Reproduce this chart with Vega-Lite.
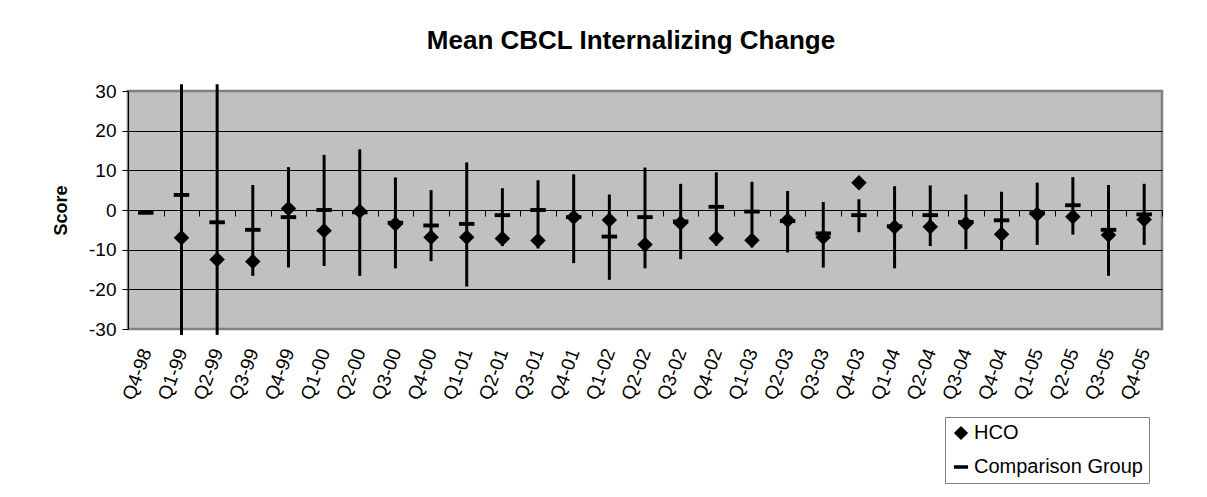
{
  "$schema": "https://vega.github.io/schema/vega-lite/v6.json",
  "autosize": "none",
  "width": 1034,
  "height": 238,
  "padding": {"left": 128, "top": 91, "right": 45, "bottom": 168},
  "background": "white",
  "title": {
    "text": "Mean CBCL Internalizing Change",
    "font": "Liberation Sans",
    "fontSize": 26,
    "fontWeight": "bold",
    "color": "black",
    "anchor": "middle",
    "frame": "group",
    "offset": 28,
    "dx": -14
  },
  "config": {
    "view": {"fill": "#C0C0C0", "stroke": "#808080", "strokeWidth": 2.5},
    "axis": {"labelFont": "Liberation Sans", "titleFont": "Liberation Sans", "labelColor": "black", "titleColor": "black", "domainColor": "black", "tickColor": "black"},
    "axisY": {
      "values": [-30, -20, -10, 0, 10, 20, 30],
      "labelExpr": "toString(datum.value)",
      "labelOverlap": false,
      "labelFontSize": 19,
      "labelPadding": 6,
      "tickSize": 6,
      "domain": true,
      "grid": true,
      "gridWidth": 1,
      "titleFontSize": 18,
      "titleFontWeight": "bold",
      "titlePadding": 18
    }
  },
  "data": {
    "values": [
      {"q": "Q4-98", "series": "Comparison Group", "value": -0.7},
      {"q": "Q1-99", "series": "HCO", "value": -7.0},
      {"q": "Q1-99", "series": "Comparison Group", "value": 3.8, "low": -31.5, "high": 31.7},
      {"q": "Q2-99", "series": "HCO", "value": -12.5},
      {"q": "Q2-99", "series": "Comparison Group", "value": -3.1, "low": -31.5, "high": 31.7},
      {"q": "Q3-99", "series": "HCO", "value": -13.0},
      {"q": "Q3-99", "series": "Comparison Group", "value": -5.0, "low": -16.6, "high": 6.3},
      {"q": "Q4-99", "series": "HCO", "value": 0.4},
      {"q": "Q4-99", "series": "Comparison Group", "value": -1.8, "low": -14.5, "high": 10.8},
      {"q": "Q1-00", "series": "HCO", "value": -5.2},
      {"q": "Q1-00", "series": "Comparison Group", "value": 0.0, "low": -14.1, "high": 13.9},
      {"q": "Q2-00", "series": "HCO", "value": -0.3},
      {"q": "Q2-00", "series": "Comparison Group", "value": -0.6, "low": -16.6, "high": 15.3},
      {"q": "Q3-00", "series": "HCO", "value": -3.5},
      {"q": "Q3-00", "series": "Comparison Group", "value": -3.2, "low": -14.7, "high": 8.2},
      {"q": "Q4-00", "series": "HCO", "value": -6.9},
      {"q": "Q4-00", "series": "Comparison Group", "value": -3.9, "low": -12.9, "high": 5.0},
      {"q": "Q1-01", "series": "HCO", "value": -6.9},
      {"q": "Q1-01", "series": "Comparison Group", "value": -3.5, "low": -19.3, "high": 12.0},
      {"q": "Q2-01", "series": "HCO", "value": -7.2},
      {"q": "Q2-01", "series": "Comparison Group", "value": -1.3, "low": -9.1, "high": 5.5},
      {"q": "Q3-01", "series": "HCO", "value": -7.7},
      {"q": "Q3-01", "series": "Comparison Group", "value": 0.0, "low": -9.7, "high": 7.5},
      {"q": "Q4-01", "series": "HCO", "value": -1.8},
      {"q": "Q4-01", "series": "Comparison Group", "value": -1.8, "low": -13.4, "high": 9.0},
      {"q": "Q1-02", "series": "HCO", "value": -2.5},
      {"q": "Q1-02", "series": "Comparison Group", "value": -6.7, "low": -17.6, "high": 3.9},
      {"q": "Q2-02", "series": "HCO", "value": -8.7},
      {"q": "Q2-02", "series": "Comparison Group", "value": -1.8, "low": -14.7, "high": 10.7},
      {"q": "Q3-02", "series": "HCO", "value": -3.3},
      {"q": "Q3-02", "series": "Comparison Group", "value": -2.9, "low": -12.4, "high": 6.6},
      {"q": "Q4-02", "series": "HCO", "value": -7.1},
      {"q": "Q4-02", "series": "Comparison Group", "value": 0.8, "low": -9.0, "high": 9.5},
      {"q": "Q1-03", "series": "HCO", "value": -7.6},
      {"q": "Q1-03", "series": "Comparison Group", "value": -0.4, "low": -9.4, "high": 7.1},
      {"q": "Q2-03", "series": "HCO", "value": -2.6},
      {"q": "Q2-03", "series": "Comparison Group", "value": -2.8, "low": -10.7, "high": 4.8},
      {"q": "Q3-03", "series": "HCO", "value": -6.9},
      {"q": "Q3-03", "series": "Comparison Group", "value": -5.9, "low": -14.5, "high": 2.0},
      {"q": "Q4-03", "series": "HCO", "value": 6.9},
      {"q": "Q4-03", "series": "Comparison Group", "value": -1.3, "low": -5.6, "high": 2.7},
      {"q": "Q1-04", "series": "HCO", "value": -4.3},
      {"q": "Q1-04", "series": "Comparison Group", "value": -4.1, "low": -14.7, "high": 6.0},
      {"q": "Q2-04", "series": "HCO", "value": -4.2},
      {"q": "Q2-04", "series": "Comparison Group", "value": -1.3, "low": -9.1, "high": 6.2},
      {"q": "Q3-04", "series": "HCO", "value": -3.4},
      {"q": "Q3-04", "series": "Comparison Group", "value": -3.0, "low": -9.9, "high": 3.9},
      {"q": "Q4-04", "series": "HCO", "value": -6.1},
      {"q": "Q4-04", "series": "Comparison Group", "value": -2.6, "low": -10.3, "high": 4.6},
      {"q": "Q1-05", "series": "HCO", "value": -1.1},
      {"q": "Q1-05", "series": "Comparison Group", "value": -0.8, "low": -8.8, "high": 6.9},
      {"q": "Q2-05", "series": "HCO", "value": -1.7},
      {"q": "Q2-05", "series": "Comparison Group", "value": 1.2, "low": -6.2, "high": 8.3},
      {"q": "Q3-05", "series": "HCO", "value": -6.3},
      {"q": "Q3-05", "series": "Comparison Group", "value": -5.0, "low": -16.6, "high": 6.3},
      {"q": "Q4-05", "series": "HCO", "value": -2.4},
      {"q": "Q4-05", "series": "Comparison Group", "value": -1.1, "low": -8.8, "high": 6.6}
    ]
  },
  "encoding": {
    "x": {
      "field": "q",
      "type": "nominal",
      "scale": {
        "domain": ["Q4-98","Q1-99","Q2-99","Q3-99","Q4-99","Q1-00","Q2-00","Q3-00","Q4-00","Q1-01","Q2-01","Q3-01","Q4-01","Q1-02","Q2-02","Q3-02","Q4-02","Q1-03","Q2-03","Q3-03","Q4-03","Q1-04","Q2-04","Q3-04","Q4-04","Q1-05","Q2-05","Q3-05","Q4-05"],
        "type": "band",
        "paddingInner": 0,
        "paddingOuter": 0
      },
      "axis": {
        "title": null,
        "orient": "bottom",
        "offset": -119,
        "tickBand": "extent",
        "tickSize": 6,
        "tickWidth": 1,
        "domain": true,
        "domainWidth": 1,
        "grid": false,
        "labelAngle": -70,
        "labelFontSize": 19,
        "labelPadding": 133,
        "labelOverlap": false
      }
    }
  },
  "layer": [
    {
      "transform": [{"filter": "isValid(datum.low)"}],
      "mark": {"type": "rule", "color": "black", "strokeWidth": 3, "clip": false},
      "encoding": {
        "y": {
          "field": "low",
          "type": "quantitative",
          "scale": {"domain": [-30, 30], "nice": false, "zero": false},
          "axis": {
            "title": "Score",
            "gridColor": {"condition": {"test": "abs(datum.value) === 30", "value": "#808080"}, "value": "black"}
          }
        },
        "y2": {"field": "high"}
      }
    },
    {
      "mark": {"type": "point", "filled": true, "color": "black", "size": 240, "opacity": 1, "strokeWidth": 0},
      "encoding": {
        "y": {
          "field": "value",
          "type": "quantitative",
          "scale": {"domain": [-30, 30], "nice": false, "zero": false},
          "axis": {
            "title": "Score",
            "gridColor": {"condition": {"test": "abs(datum.value) === 30", "value": "#808080"}, "value": "black"}
          }
        },
        "shape": {
          "field": "series",
          "type": "nominal",
          "scale": {"domain": ["HCO", "Comparison Group"], "range": ["diamond", "M-1,-0.25H1V0.25H-1Z"]},
          "legend": {
            "title": null,
            "orient": "none",
            "legendX": 817,
            "legendY": 326,
            "fillColor": "white",
            "strokeColor": "#808080",
            "padding": 6,
            "labelFont": "Liberation Sans",
            "labelFontSize": 20,
            "labelColor": "black",
            "labelLimit": 0,
            "symbolFillColor": "black",
            "symbolStrokeWidth": 0,
            "symbolSize": 200,
            "rowPadding": 14,
            "labelOffset": 3
          }
        }
      }
    }
  ]
}
